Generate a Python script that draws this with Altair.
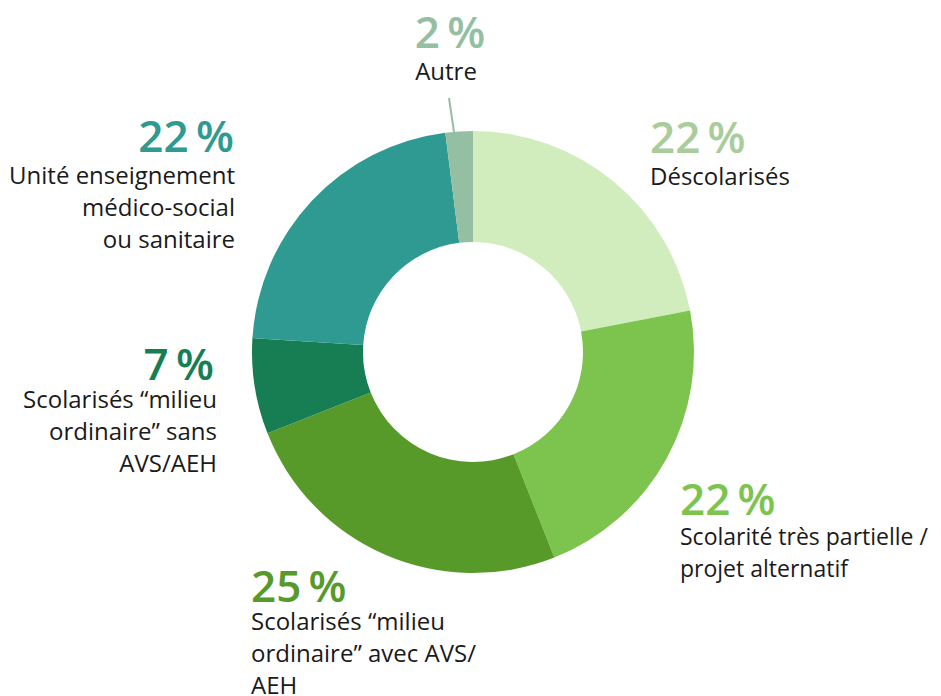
import altair as alt
import pandas as pd

categories = [
    "Déscolarisés",
    "Scolarité très partielle / projet alternatif",
    "Scolarisés “milieu ordinaire” avec AVS/AEH",
    "Scolarisés “milieu ordinaire” sans AVS/AEH",
    "Unité enseignement médico-social ou sanitaire",
    "Autre",
]
values = [22, 22, 25, 7, 22, 2]
slice_colors = ["#d1edbd", "#7dc44f", "#579a29", "#177e53", "#2f9a92", "#95bfa2"]
pct_colors = ["#a9cc9b", "#7dc44f", "#579a29", "#177e53", "#2f9a92", "#95bfa2"]
label_lines = [
    ["Déscolarisés"],
    ["Scolarité très partielle /", "projet alternatif"],
    ["Scolarisés “milieu", "ordinaire” avec AVS/", "AEH"],
    ["Scolarisés “milieu", "ordinaire” sans", "AVS/AEH"],
    ["Unité enseignement", "médico-social", "ou sanitaire"],
    ["Autre"],
]

df = pd.DataFrame({
    "cat": categories,
    "value": values,
    "order": list(range(len(categories))),
    "pct": [f"{v}\u2009%" for v in values],
})

CX, CY = 465, 344
FONT = "Open Sans"

donut = alt.Chart(df).mark_arc(outerRadius=221, innerRadius=110).encode(
    theta=alt.Theta("value:Q", stack=True),
    order=alt.Order("order:Q"),
    color=alt.Color("cat:N", scale=alt.Scale(domain=categories, range=slice_colors), legend=None),
    x=alt.value(CX),
    y=alt.value(CY),
)

# layout of annotations: (align, pct x, pct y, label x, label y, label font size)
layout = [
    ("left", 642, 145, 642, 177, 24),
    ("left", 672, 507, 672, 537, 23),
    ("left", 243, 594, 243, 622, 24),
    ("right", 206, 372, 209, 400, 24),
    ("right", 226, 144, 227, 176, 24),
    ("center", 442, 40, 438, 72, 24),
]

layers = [donut]
for i, (align, px, py, lx, ly, fs) in enumerate(layout):
    sub = alt.Chart(df).transform_filter(alt.datum.order == i)
    layers.append(
        sub.mark_text(
            font=FONT, fontSize=44, fontWeight=600, align=align,
            baseline="alphabetic", color=pct_colors[i],
        ).encode(text="pct:N", x=alt.value(px), y=alt.value(py))
    )
    layers.append(
        sub.mark_text(
            font=FONT, fontSize=fs, fontWeight=400, align=align,
            baseline="alphabetic", color="#1a1a1a", lineHeight=32,
            text=label_lines[i],
        ).encode(x=alt.value(lx), y=alt.value(ly))
    )

leader = alt.Chart(df).transform_filter(alt.datum.order == 5).mark_rule(
    color="#95bfa2", strokeWidth=2
).encode(x=alt.value(441), y=alt.value(90), x2=alt.value(446), y2=alt.value(124))
layers.append(leader)

chart = alt.layer(*layers).properties(
    width=925, height=688, padding=0,
    autosize=alt.AutoSizeParams(type="none"),
).configure_view(stroke=None)

chart.save("out.html", embed_options={"renderer": "svg", "actions": False})
